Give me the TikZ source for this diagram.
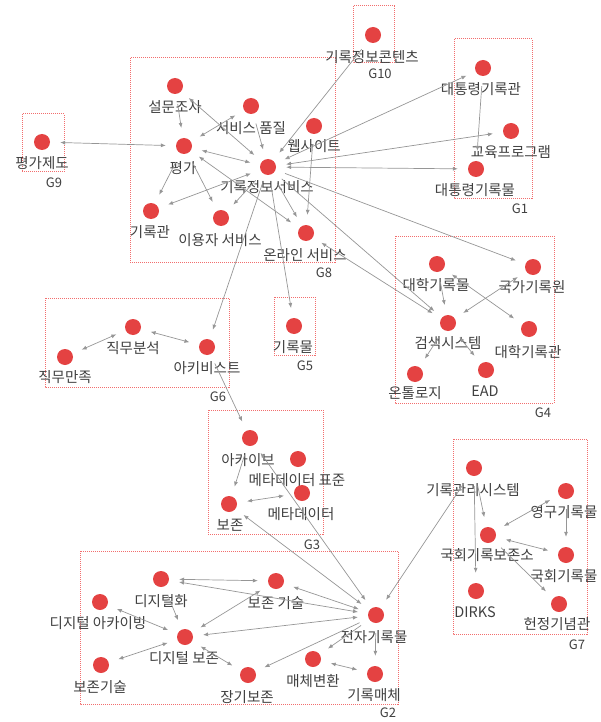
\documentclass[tikz,border=0pt]{standalone}
\usepackage{fontspec}
\newfontfamily\kr{Noto Sans CJK KR}
\usetikzlibrary{arrows.meta}
\definecolor{dotred}{RGB}{228,66,66}
\definecolor{boxred}{RGB}{242,110,110}
\definecolor{lnkgray}{RGB}{150,150,150}
\tikzset{% common styles of the network picture
  pt/.style   = {shape=circle, fill=dotred, minimum size=16pt, inner sep=0pt},
  lbl/.style  = {font=\kr\fontsize{14.5}{16}\selectfont, inner sep=0pt, text=black!75},
  grp/.style  = {draw=boxred, densely dotted, line width=1pt},
  glbl/.style = {font=\kr\fontsize{13}{15}\selectfont, inner sep=0pt, text=black!75},
  lnk/.style  = {draw=lnkgray, line width=0.7pt, shorten <=10pt, shorten >=10pt,
                 -{Latex[length=5pt,width=4pt]}},
  both/.style = {lnk, {Latex[length=5pt,width=4pt]}-{Latex[length=5pt,width=4pt]}},
}
\begin{document}
\begin{tikzpicture}[x=1pt, y=-1pt]
\useasboundingbox (0,0) rectangle (600,722);
% groups
\draw[grp] (22,114) rectangle (64,172);   \node[glbl] (g9) at (54,183) {G9};
\draw[grp] (130,58) rectangle (335,262);  \node[glbl] (g8) at (324,273) {G8};
\draw[grp] (353,6) rectangle (394,63);    \node[glbl] (g10) at (380,74) {G10};
\draw[grp] (454,39) rectangle (532,198);  \node[glbl] (g1) at (520,209) {G1};
\draw[grp] (395,236) rectangle (554,403); \node[glbl] (g4) at (543,413) {G4};
\draw[grp] (274,297) rectangle (315,355); \node[glbl] (g5) at (305,366) {G5};
\draw[grp] (45,298) rectangle (229,387);  \node[glbl] (g6) at (218,397) {G6};
\draw[grp] (208,410) rectangle (323,534); \node[glbl] (g3) at (312,545) {G3};
\draw[grp] (453,439) rectangle (587,634); \node[glbl] (g7) at (577,645) {G7};
\draw[grp] (80,551) rectangle (398,704);  \node[glbl] (g2) at (388,713) {G2};
% G9, G8, G10
\node[pt] (pgjd) at (42,142) {};   \node[lbl] (pgjd-t) at (42,163) {평가제도};
\node[pt] (smjs) at (175,86) {};   \node[lbl] (smjs-t) at (175,107) {설문조사};
\node[pt] (svpj) at (251,106) {};  \node[lbl] (svpj-t) at (251,128) {서비스 품질};
\node[pt] (pg) at (184,146) {};    \node[lbl] (pg-t) at (183,168) {평가};
\node[pt] (gjsv) at (268,167) {};  \node[lbl] (gjsv-t) at (267,187) {기록정보서비스};
\node[pt] (web) at (314,126) {};   \node[lbl] (web-t) at (314,146) {웹사이트};
\node[pt] (gkg) at (151,211) {};   \node[lbl] (gkg-t) at (150,232) {기록관};
\node[pt] (usv) at (221,218) {};   \node[lbl] (usv-t) at (220,240) {이용자 서비스};
\node[pt] (osv) at (306,233) {};   \node[lbl] (osv-t) at (305,255) {온라인 서비스};
\node[pt] (cont) at (373,35) {};   \node[lbl] (cont-t) at (372,57) {기록정보콘텐츠};
% G1
\node[pt] (pgk) at (483,68) {};    \node[lbl] (pgk-t) at (481,89) {대통령기록관};
\node[pt] (edu) at (511,131) {};   \node[lbl] (edu-t) at (511,152) {교육프로그램};
\node[pt] (pgm) at (476,169) {};   \node[lbl] (pgm-t) at (475,190) {대통령기록물};
% G4, G5
\node[pt] (ugm) at (437,264) {};   \node[lbl] (ugm-t) at (436,285) {대학기록물};
\node[pt] (nara) at (533,267) {};  \node[lbl] (nara-t) at (532,287) {국가기록원};
\node[pt] (srch) at (448,323) {};  \node[lbl] (srch-t) at (448,343) {검색시스템};
\node[pt] (ugk) at (529,329) {};   \node[lbl] (ugk-t) at (528,352) {대학기록관};
\node[pt] (onto) at (415,374) {};  \node[lbl] (onto-t) at (415,393) {온톨로지};
\node[pt] (ead) at (486,370) {};   \node[lbl] (ead-t) at (485,391) {EAD};
\node[pt] (rec) at (294,326) {};   \node[lbl] (rec-t) at (293,347) {기록물};
% G6
\node[pt] (jwb) at (133,327) {};   \node[lbl] (jwb-t) at (133,348) {직무분석};
\node[pt] (jwm) at (65,357) {};    \node[lbl] (jwm-t) at (65,377) {직무만족};
\node[pt] (arch) at (207,347) {};  \node[lbl] (arch-t) at (207,368) {아키비스트};
% G3
\node[pt] (akb) at (250,438) {};   \node[lbl] (akb-t) at (248,460) {아카이브};
\node[pt] (mstd) at (298,459) {};  \node[lbl] (mstd-t) at (297,480) {메타데이터 표준};
\node[pt] (meta) at (302,493) {};  \node[lbl] (meta-t) at (301,514) {메타데이터};
\node[pt] (bz) at (229,504) {};    \node[lbl] (bz-t) at (230,525) {보존};
% G7
\node[pt] (rms) at (474,468) {};   \node[lbl] (rms-t) at (473,490) {기록관리시스템};
\node[pt] (perm) at (566,491) {};  \node[lbl] (perm-t) at (564,512) {영구기록물};
\node[pt] (nac) at (488,535) {};   \node[lbl] (nac-t) at (487,555) {국회기록보존소};
\node[pt] (narec) at (566,555) {}; \node[lbl] (narec-t) at (564,576) {국회기록물};
\node[pt] (dirks) at (476,591) {}; \node[lbl] (dirks-t) at (475,612) {DIRKS};
\node[pt] (hall) at (559,604) {};  \node[lbl] (hall-t) at (557,624) {헌정기념관};
% G2
\node[pt] (dgz) at (161,579) {};     \node[lbl] (dgz-t) at (161,601) {디지털화};
\node[pt] (bztech) at (276,581) {};  \node[lbl] (bztech-t) at (276,603) {보존 기술};
\node[pt] (darc) at (100,602) {};    \node[lbl] (darc-t) at (98,623) {디지털 아카이빙};
\node[pt] (dpres) at (185,637) {};   \node[lbl] (dpres-t) at (184,658) {디지털 보존};
\node[pt] (bztechb) at (101,665) {}; \node[lbl] (bztechb-t) at (100,687) {보존기술};
\node[pt] (erec) at (376,615) {};    \node[lbl] (erec-t) at (374,637) {전자기록물};
\node[pt] (media) at (313,659) {};   \node[lbl] (media-t) at (313,681) {매체변환};
\node[pt] (rmed) at (375,674) {};    \node[lbl] (rmed-t) at (374,695) {기록매체};
\node[pt] (ltp) at (248,675) {};     \node[lbl] (ltp-t) at (247,697) {장기보존};
% links
\draw[both] (pgjd) -- (pg);
\draw[lnk]  (smjs) -- (pg);
\draw[both] (smjs) -- (gjsv);
\draw[both] (svpj) -- (pg);
\draw[lnk]  (svpj) -- (gjsv);
\draw[both] (pg) -- (gjsv);
\draw[lnk]  (pg) -- (gkg);
\draw[lnk]  (pg) -- (usv);
\draw[both] (gjsv) -- (gkg);
\draw[lnk]  (gjsv) -- (usv);
\draw[both] (pg) -- (osv);
\draw[lnk]  (gjsv) -- (osv);
\draw[lnk]  (web) -- (osv);
\draw[lnk]  (cont) -- (gjsv);
\draw[both] (gjsv) -- (pgk);
\draw[both] (gjsv) -- (edu);
\draw[both] (gjsv) -- (pgm);
\draw[lnk]  (pgk) -- (pgm);
\draw[lnk]  (gjsv) -- (nara);
\draw[lnk]  (gjsv) -- (srch);
\draw[both] (osv) -- (srch);
\draw[both] (ugm) -- (ugk);
\draw[lnk]  (ugm) -- (srch);
\draw[both] (nara) -- (srch);
\draw[lnk]  (srch) -- (onto);
\draw[both] (srch) -- (ead);
\draw[lnk]  (gjsv) -- (rec);
\draw[lnk]  (gjsv) -- (arch);
\draw[both] (jwm) -- (jwb);
\draw[both] (jwb) -- (arch);
\draw[lnk]  (arch) -- (akb);
\draw[lnk]  (akb) -- (bz);
\draw[both] (erec) -- (akb);
\draw[both] (bz) -- (erec);
\draw[both] (bz) -- (meta);
\draw[lnk]  (rms) -- (erec);
\draw[lnk]  (rms) -- (nac);
\draw[lnk]  (rms) -- (dirks);
\draw[both] (perm) -- (nac);
\draw[lnk]  (perm) -- (narec);
\draw[both] (nac) -- (narec);
\draw[lnk]  (nac) -- (hall);
\draw[both] (dgz) -- (bztech);
\draw[both] (dgz) -- (erec);
\draw[both] (bztech) -- (erec);
\draw[both] (bztech) -- (dpres);
\draw[lnk]  (dgz) -- (dpres);
\draw[both] (darc) -- (dpres);
\draw[both] (bztechb) -- (dpres);
\draw[both] (dpres) -- (erec);
\draw[both] (dpres) -- (ltp);
\draw[lnk]  (erec) -- (ltp);
\draw[lnk]  (erec) -- (media);
\draw[both] (media) -- (rmed);
\draw[lnk]  (erec) -- (rmed);
\end{tikzpicture}
\end{document}
